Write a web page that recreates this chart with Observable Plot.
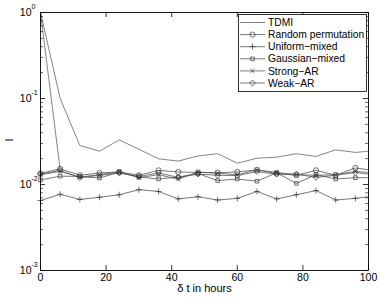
<!DOCTYPE html>
<html><head><meta charset="utf-8">
<script src="https://cdn.jsdelivr.net/npm/d3@7"></script>
<script src="https://cdn.jsdelivr.net/npm/@observablehq/plot@0.6"></script>
<style>
body{margin:0;background:#fff;}
svg{font-family:"Liberation Sans",Arial,Helvetica,sans-serif;}
</style>
</head><body><div id="chart"></div>
<script>
// lags in hours
const lags = [0, 6, 12, 18, 24, 30, 36, 42, 48, 54, 60, 66, 72, 78, 84, 90, 96, 100];
const tdmi     = [1.0, 0.1, 0.0284, 0.0244, 0.0330, 0.0257, 0.0199, 0.0187, 0.0215, 0.0228, 0.0177, 0.0202, 0.0208, 0.0228, 0.0212, 0.0253, 0.0236, 0.0244];
const randomPerm = [0.0135, 0.0152, 0.0128, 0.0136, 0.0140, 0.0128, 0.0146, 0.0140, 0.0138, 0.0137, 0.0140, 0.0148, 0.0134, 0.0128, 0.0146, 0.0128, 0.0156, 0.0148];
const uniformMixed = [0.0065, 0.0077, 0.0067, 0.0071, 0.0076, 0.0087, 0.0083, 0.0068, 0.0072, 0.0066, 0.0069, 0.0083, 0.0068, 0.0076, 0.0085, 0.0066, 0.0069, 0.0072];
const gaussianMixed = [0.0113, 0.0125, 0.0124, 0.0119, 0.0139, 0.0122, 0.0116, 0.0122, 0.0134, 0.0111, 0.0116, 0.0109, 0.0137, 0.0103, 0.0130, 0.0116, 0.0120, 0.0120];
const strongAR = [0.0130, 0.0142, 0.0122, 0.0130, 0.0140, 0.0120, 0.0130, 0.0115, 0.0140, 0.0135, 0.0130, 0.0148, 0.0138, 0.0130, 0.0128, 0.0130, 0.0142, 0.0138];
const weakAR = [0.0132, 0.0146, 0.0120, 0.0128, 0.0136, 0.0124, 0.0136, 0.0121, 0.0132, 0.0128, 0.0127, 0.0141, 0.0132, 0.0132, 0.0121, 0.0128, 0.0138, 0.0132];
// unlabeled steep line near the origin
const steepLags = [0, 6];
const steepValues = [1.0, 0.0148];

const seriesNames = ["TDMI", "Random permutation", "Uniform\u2212mixed", "Gaussian\u2212mixed", "Strong\u2212AR", "Weak\u2212AR"];
const seriesValues = [tdmi, randomPerm, uniformMixed, gaussianMixed, strongAR, weakAR];
const seriesSymbols = [null, "circle", "plus", "square2", "times", "diamond2"];
const symbolRadius = {circle: 2.6, plus: 2.1, square2: 2.3, times: 2.1, diamond2: 2.6};

const xTicks = [0, 20, 40, 60, 80, 100];
const yTicks = [1e-3, 1e-2, 1e-1, 1];
const yTickExponents = ["-3", "-2", "-1", "0"];
const yMinor = [];
for (const d of [1e-3, 1e-2, 1e-1]) for (let k = 2; k <= 9; k++) yMinor.push(d * k);
const xLabel = "\u03b4 t in hours";
const yLabel = "I";

const W = 381, H = 300, mL = 40, mR = 13, mT = 12, mB = 30;
const fw = W - mL - mR, fh = H - mT - mB;
const lineColor = "#555", markColor = "#333";

const rows = seriesNames.flatMap((name, s) => lags.map((x, i) => ({series: name, s, x, y: seriesValues[s][i]})));
const steepRows = steepLags.map((x, i) => ({x, y: steepValues[i]}));

const marks = [
  Plot.line(rows, {x: "x", y: "y", z: "series", stroke: d => d.s === 0 ? "#666" : lineColor, strokeWidth: 0.8}),
  Plot.line(steepRows, {x: "x", y: "y", stroke: "#666", strokeWidth: 0.8}),
];
seriesNames.forEach((name, s) => {
  const sym = seriesSymbols[s];
  if (!sym) return;
  marks.push(Plot.dot(rows.filter(d => d.s === s && d.x < 100), {
    x: "x", y: "y", symbol: sym, r: symbolRadius[sym],
    stroke: markColor, fill: "none", strokeWidth: 0.7
  }));
});
marks.push(
  Plot.tickX(xTicks, {x: d => d, insetTop: fh - 5, stroke: "black", strokeWidth: 0.8}),
  Plot.tickX(xTicks, {x: d => d, insetBottom: fh - 5, stroke: "black", strokeWidth: 0.8}),
  Plot.tickY(yTicks, {y: d => d, insetRight: fw - 5, stroke: "black", strokeWidth: 0.8}),
  Plot.tickY(yTicks, {y: d => d, insetLeft: fw - 5, stroke: "black", strokeWidth: 0.8}),
  Plot.tickY(yMinor, {y: d => d, insetRight: fw - 3, stroke: "black", strokeWidth: 0.6}),
  Plot.tickY(yMinor, {y: d => d, insetLeft: fw - 3, stroke: "black", strokeWidth: 0.6}),
  Plot.frame({stroke: "black", strokeWidth: 0.9}),
  Plot.text(xTicks, {x: d => d, frameAnchor: "bottom", lineAnchor: "top", dy: 3, text: d => String(d), fontSize: 10.5, fill: "black"}),
  Plot.text(yTicks, {y: d => d, frameAnchor: "left", dx: -9, textAnchor: "end", text: () => "10", fontSize: 10.5, fill: "black"}),
  Plot.text(yTicks, {y: d => d, frameAnchor: "left", dx: -9, dy: -6, textAnchor: "start", text: (d, i) => yTickExponents[i], fontSize: 7, fill: "black"}),
  Plot.text([xLabel], {frameAnchor: "bottom", dy: 21, text: d => d, fontSize: 11, fill: "black"}),
  Plot.text([yLabel], {frameAnchor: "left", dx: -31, rotate: -90, text: d => d, fontSize: 11, fill: "black"})
);

const chart = Plot.plot({
  width: W, height: H,
  marginLeft: mL, marginRight: mR, marginTop: mT, marginBottom: mB,
  x: {domain: [0, 100], axis: null},
  y: {type: "log", domain: [1e-3, 1], axis: null},
  style: {background: "white", fontFamily: "'Liberation Sans', Arial, sans-serif"},
  marks
});
document.getElementById("chart").appendChild(chart);

// legend inside the axes (upper right)
const svg = d3.select(chart);
const lg = svg.append("g").attr("class", "legend").attr("text-anchor", "start");
const lx = 238, ly = 14, lw = 128, lh = 77, rowH = 12.1;
lg.append("rect").attr("x", lx + 0.5).attr("y", ly + 0.5).attr("width", lw).attr("height", lh)
  .attr("fill", "white").attr("stroke", "black").attr("stroke-width", 0.8);
const d3Symbols = {circle: d3.symbolCircle, plus: d3.symbolPlus, square2: d3.symbolSquare2, times: d3.symbolTimes, diamond2: d3.symbolDiamond2};
seriesNames.forEach((name, s) => {
  const cy = ly + 8.5 + s * rowH;
  lg.append("line").attr("x1", lx + 2).attr("x2", lx + 27).attr("y1", cy).attr("y2", cy)
    .attr("stroke", s === 0 ? "#666" : lineColor).attr("stroke-width", 0.8);
  const sym = seriesSymbols[s];
  if (sym) {
    const r = symbolRadius[sym];
    lg.append("path").attr("d", d3.symbol(d3Symbols[sym], Math.PI * r * r)())
      .attr("transform", `translate(${lx + 14.5},${cy})`)
      .attr("fill", "none").attr("stroke", markColor).attr("stroke-width", 0.7);
  }
  lg.append("text").attr("x", lx + 30).attr("y", cy).attr("dy", "0.35em")
    .attr("text-anchor", "start")
    .attr("font-size", 10.3).attr("fill", "black").text(name);
});
</script>
</body></html>
